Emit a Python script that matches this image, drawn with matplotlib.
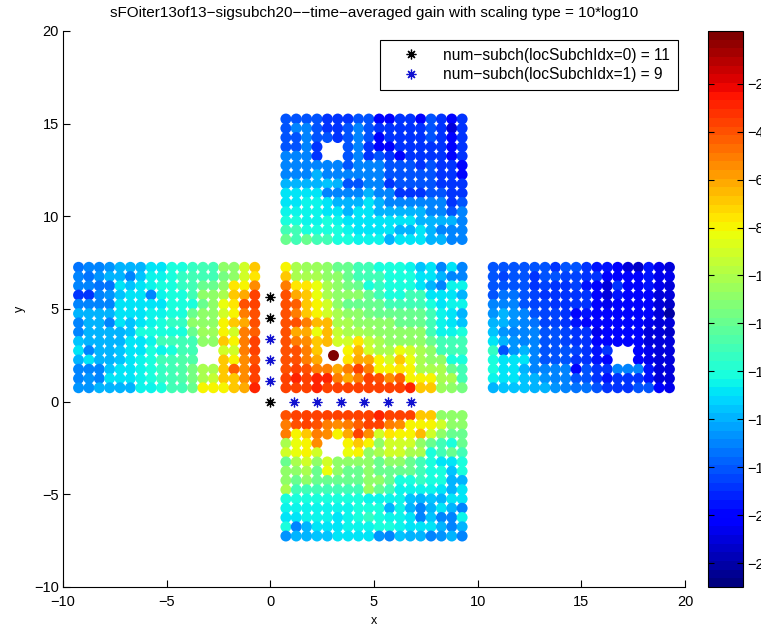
import numpy as np
import matplotlib
matplotlib.use('Agg')
import matplotlib.pyplot as plt
from matplotlib.colors import Normalize
from matplotlib.cm import ScalarMappable

plt.rcParams['font.family'] = ['Liberation Sans', 'DejaVu Sans']
H = float('nan')

x_top = [0.75 + 0.5 * i for i in range(18)]
x_left = [-9.25 + 0.5 * i for i in range(18)]
x_right = [10.75 + 0.5 * i for i in range(18)]
y_top = [15.25 - 0.5 * i for i in range(14)]
y_mid = [7.25 - 0.5 * i for i in range(14)]
y_bot = [-0.75 - 0.5 * i for i in range(14)]

top_vals = [
[-18,-18,-18,-18,-19,-19,-19,-18,-18,-20,-20,-19,-19,-20,-18,-19,-20,-19],
[-18,-17,-17,-18,-19,-19,-18,-17,-18,-19,-19,-19,-19,-19,-18,-19,-21,-19],
[-18,-18,-17,-18,-18,-19,-18,-17,-18,-20,-19,-19,-19,-19,-18,-19,-20,-19],
[-18,-18,-17,-19,H,H,-18,-17,-19,-20,-20,-19,-19,-19,-19,-19,-20,-19],
[-17,-17,-17,-19,H,H,-18,-17,-19,-18,-19,-20,-19,-19,-19,-19,-20,-19],
[-17,-17,-17,-17,-17,-17,-18,-17,-17,-17,-18,-18,-18,-19,-18,-19,-19,-20],
[-17,-17,-17,-16,-17,-17,-17,-17,-17,-17,-18,-18,-18,-18,-18,-19,-19,-20],
[-16,-16,-16,-16,-15.5,-16,-18,-18,-17,-17,-19,-18,-18,-18,-18,-19,-19,-19],
[-15,-15,-15,-15,-17,-17,-17,-17,-16,-17,-17,-19,-19,-19,-18,-18,-19,-19],
[-15,-15,-14.5,-14.5,-15,-16,-16,-16,-15,-16,-17,-17,-17,-17,-17,-17,-19,-18],
[-14.5,-14.5,-14.5,-14.5,-15,-15,-16,-15,-15,-16,-16,-16,-16,-16,-17,-17,-18,-17],
[-14,-14,-14.5,-14.5,-14,-14.5,-15,-15,-15,-15,-15,-15,-15,-16,-16,-16,-16,-17],
[-13,-13,-14,-14,-14,-14,-14.5,-15,-15,-15,-15,-16,-16,-15,-16,-17,-17,-17],
[-12,-13,-12,-13,-13,-14,-14,-14.5,-14.5,-14.5,-16,-15,-15,-15,-16,-16,-17,-17],
]
left_vals = [
[-17.5,-17,-17,-16.5,-16,-16,-16,-15,-15,-14,-14,-13.5,-13,-13,-11,-11,-9,-7],
[-17,-17.5,-16.5,-16,-16,-17,-15.5,-14.5,-14.5,-14,-13.5,-13,-13,-13,-11.5,-11,-9,-7.5],
[-17,-17,-17.5,-17.5,-15,-15.5,-15,-14.5,-14,-14,-13.5,-13,-12,-12,-11,-7.5,-8,-5.5],
[-19,-19,-17,-16.5,-15.5,-15,-15,-17,-14.5,-14,-14,-13,-11,-11,-10,-7,-6,-3.5],
[-17,-17,-17,-17,-15,-15,-15,-15,-15,-14,-14,-14,-12,-11,-8.5,-7.5,-4,-3.5],
[-16,-16,-16,-16,-15,-15,-15,-14.5,-14.5,-14,-14,-12,-11,-11,-9,-8,-5,-4],
[-17,-16,-16,-17,-15,-15.5,-15,-14.5,-14,-13.5,-13.5,-11,-11,-11,-8,-7,-6,-4],
[-17,-16,-16,-16,-16,-15.5,-14,-14,-14,-14,-14,-12,-10.5,-10.5,-8,-9,-5,-4.5],
[-15.5,-16,-16,-16,-16,-15,-15,-14.5,-13,-13,-13,-13,-11,-11,-7,-8,-5,-3.5],
[-15,-17,-16,-16,-15.5,-15,-15,-14,-14.5,-14,-13,-13,H,H,-9,-9,-5,-3.5],
[-16,-15,-16,-16,-15.5,-15,-14.5,-14,-13,-13,-12.5,-12.5,H,H,-7,-8,-5.5,-4],
[-17,-17,-17,-15.5,-15,-15,-14.5,-14,-13.5,-13,-12.5,-11.5,-10,-10,-7,-4.5,-5.5,-3.5],
[-17,-16.5,-17,-15,-15,-15,-14.5,-14,-13.5,-13,-12.5,-11.5,-10,-9.5,-7,-7,-5.5,-3.5],
[-16.5,-16.5,-16,-16,-16,-16,-14.5,-14.5,-14,-13,-13,-12,-8,-8,-8,-7,-6,-3],
]
center_vals = [
[-8,-10,-10.5,-10.5,-11,-12,-12,-13,-13,-14,-14,-14,-14.5,-15.5,-15,-17,-15,-17],
[-7,-10,-10,-10,-11,-11,-12,-13,-13,-13,-14,-14,-14,-15,-15,-16,-17,-17],
[-5,-7.5,-7.5,-8.5,-10,-11,-11.5,-12,-14,-13.5,-14,-14,-14,-15,-16,-17,-14.5,-14.5],
[-4,-6,-7,-8.5,-10,-11,-11,-11,-12,-13,-14,-14,-13,-13,-15,-15,-15,-16],
[-4,-4.5,-7,-8,-9,-11,-12,-12,-12,-12,-13,-13,-13,-13,-14,-15,-14.5,-14.5],
[-4,-5,-7,-8,-9,-10,-11,-11,-11.5,-12,-12,-12,-12,-12,-13,-14.5,-15,-16],
[-4,-4,-5,-6.5,-6.5,-10,-10,-11,-11,-11,-11,-12,-12,-12,-13,-14.5,-15,-15.5],
[-4,-6,-6,-8.5,-6.5,-9.5,-10,-10,-10.5,-11,-11,-11,-11,-11,-13,-14.5,-14.5,-14],
[-4,-5,-5.5,-7,-6.5,-9,-9,-7.5,-9.5,-10,-11,-11,-11,-11,-12,-13,-13,-13],
[-4,-4,-5,-7,H,H,-8,-6.5,-9,-10,-10,-8.5,-9,-10,-11,-13,-13,-13],
[-4,-4,-5,-6,H,H,-7.5,-6,-6,-8,-9,-7,-8.5,-10,-11,-11,-14,-14],
[-4,-3.5,-4,-5,-5,-6,-5,-3.5,-5,-8,-8,-7.5,-8,-10,-10,-10,-12,-13],
[-3.5,-3,-3.5,-3,-3,-5,-6,-5,-3.5,-4,-5.5,-4.5,-8,-8,-8,-10,-10,-13],
[-3.5,-3.5,-3.5,-3,-3.5,-3.5,-3.5,-3.5,-3.5,-3.5,-3.5,-3.5,-3,-7,-7,-10.5,-11,-11.5],
]
right_vals = [
[-18,-18,-18,-18,-18,-18,-19,-18,-18,-19,-19.5,-19.5,-20,-21,-21.5,-19.5,-20.5,-21],
[-18,-18.5,-18,-18,-19,-18,-18,-18.5,-18.5,-19,-19,-20,-20,-20,-20,-19.5,-20.5,-20.5],
[-18,-18,-18,-18,-19,-18.5,-19,-19,-18.5,-19.5,-20,-21,-19,-20,-20,-19.5,-20.5,-21],
[-18,-17.5,-17.5,-18,-18.5,-19,-19,-19,-19,-19,-20,-21,-19.5,-20,-20,-20,-21,-21],
[-17,-17,-17,-18,-18.5,-18.5,-19,-19,-19,-19,-20,-20.5,-20,-20,-20,-20,-21,-21.5],
[-16.5,-16,-16.5,-17,-18,-18.5,-18.5,-19,-20,-19.5,-20,-20,-20,-20,-20,-20,-21,-22],
[-16,-16,-16.5,-17,-17.5,-18.5,-18.5,-19,-19.5,-20,-20,-20,-20,-20,-20,-20.5,-21,-21],
[-15.5,-16.5,-17,-17,-17,-18,-18,-18.5,-19,-19,-20.5,-20,-20,-20,-20,-21,-21,-21.5],
[-15,-16,-16.5,-17,-17,-18,-18,-18.5,-19,-19,-20,-20,-20,-20,-20,-21,-21,-21],
[-13.5,-18,-16.5,-16,-17,-18,-18,-18,-18.5,-19,-19.5,-19,H,H,-20,-20.5,-21,-21],
[-14,-15,-15,-15,-17,-18,-18,-18,-19,-19,-19.5,-20,H,H,-20,-20.5,-21,-21],
[-14,-15,-15,-16,-17,-17,-17,-17,-20,-18,-19,-19,-17,-17,-17,-19.5,-21,-21],
[-14.5,-15,-15,-15.5,-16,-16.5,-17,-17,-18,-18,-19,-19.5,-19,-19,-19,-19.5,-21,-21],
[-16,-15.5,-15.5,-15.5,-16,-16,-16.5,-17,-17.5,-17.5,-18,-19,-19,-19,-18,-18,-20,-20.5],
]
bottom_vals = [
[-4,-3.5,-3.5,-3.5,-3.5,-3.5,-3.5,-3.5,-3.5,-3,-3.5,-3.5,-3.5,-7,-7,-11,-11,-11],
[-5,-4,-3.5,-4,-5,-5.5,-5,-4.5,-3.5,-3.5,-5,-5.5,-8,-8,-8,-9,-11,-11],
[-5,-8,-7,-5,-5.5,-8,-6,-3.5,-5.5,-9,-7.5,-8,-8,-6.5,-9,-11,-12,-12],
[-10,-8.5,-8,-5.5,H,H,-8,-7,-8,-11,-9,-9,-9,-11,-12,-13,-14,-12],
[-9,-8.5,-8,-9,H,H,-8.5,-8,-11,-10,-9,-9,-10,-10,-14,-13,-12,-13],
[-12,-10,-9,-11,-9,-11,-11,-11,-11,-12,-11,-11,-12,-13,-14,-15,-15,-14],
[-11,-11,-10,-12,-8.5,-11,-12,-12,-11,-12,-12,-12,-12,-13,-14,-14,-15.5,-14],
[-11,-12,-11,-12,-12,-12,-12,-12,-11,-11,-12,-14,-14,-13.5,-14,-14,-16,-16],
[-10,-13,-13,-13,-13,-13,-13,-13,-10.5,-12,-13,-14.5,-14.5,-14.5,-14.5,-15,-16,-15],
[-14,-14,-14,-14,-14,-14,-14,-14,-14.5,-14.5,-14.5,-14.5,-15.5,-16,-15.5,-16,-15,-15],
[-14.5,-14.5,-14.5,-14.5,-14.5,-14.5,-14.5,-14,-14,-14,-16,-14.5,-16,-17,-16,-15,-16,-17],
[-15,-15,-14.5,-14.5,-14.5,-15,-14.5,-14,-13.5,-14,-14.5,-14.5,-15,-17,-15.5,-17,-17,-14.5],
[-14,-17,-16,-15,-15,-15,-14.5,-14.5,-14.5,-14,-14,-14.5,-15,-15,-15,-16,-17,-16],
[-16.5,-16,-16,-15.5,-15.5,-15,-15,-15,-15,-16.5,-17,-15.5,-16,-16,-17,-16.5,-16,-17],
]
peak_x, peak_y, peak_val = [3.0], [2.5], [0.0]

black_x = [0, 0, 0]
black_y = [5.67, 4.53, 0]
blue_x = [0, 0, 0, 1.13, 2.27, 3.4, 4.53, 5.67, 6.8]
blue_y = [3.4, 2.27, 1.13, 0, 0, 0, 0, 0, 0]

title = 'sFOiter13of13\u2212sigsubch20\u2212\u2212time\u2212averaged gain with scaling type = 10*log10'
legend_labels = ['num\u2212subch(locSubchIdx=0) = 11', 'num\u2212subch(locSubchIdx=1) = 9']
axis_ticks = [-10, -5, 0, 5, 10, 15, 20]
cbar_ticks = [-2, -4, -6, -8, -10, -12, -14, -16, -18, -20, -22]
vmin, vmax = -23.0, 0.2

W, Hh = 761, 626
fig = plt.figure(figsize=(W / 100, Hh / 100), dpi=100)
ax = fig.add_axes([63 / W, (Hh - 587) / Hh, 622 / W, 556 / Hh])
cmap = plt.get_cmap('jet', 64)
norm = Normalize(vmin, vmax)

panels = [(x_left, y_mid, left_vals), (x_top, y_top, top_vals), (x_top, y_mid, center_vals),
          (x_right, y_mid, right_vals), (x_top, y_bot, bottom_vals)]
for xs, ys, vals in panels:
    X, Y = np.meshgrid(xs, ys)
    ax.scatter(X.ravel(), Y.ravel(), c=np.array(vals, float).ravel(), s=62, cmap=cmap, norm=norm,
               linewidths=0, zorder=2)
ax.scatter(peak_x, peak_y, c=peak_val, s=62, cmap=cmap, norm=norm, linewidths=0, zorder=3)

star = (8, 2, 0)
ax.plot(black_x, black_y, ls='none', marker=star, ms=7, mew=0.9, color='black', label=legend_labels[0], zorder=4)
ax.plot(blue_x, blue_y, ls='none', marker=star, ms=7, mew=0.9, color='#1010d0', label=legend_labels[1], zorder=4)

ax.set_xlim(-10, 20)
ax.set_ylim(-10, 20)
ax.set_xticks(axis_ticks)
ax.set_yticks(axis_ticks)
ax.tick_params(direction='in', length=5, width=0.8, labelsize=10.5)
ax.tick_params(axis='x', pad=6)
ax.tick_params(axis='y', pad=3)
ax.spines['top'].set_visible(False)
ax.spines['right'].set_visible(False)
ax.set_title(title, fontsize=11, pad=10)
ax.set_xlabel('x', fontsize=9, labelpad=4)
ax.set_ylabel('y', fontsize=9, labelpad=6)

leg = ax.legend(loc='upper right', bbox_to_anchor=(678 / W, (Hh - 40) / Hh), bbox_transform=fig.transFigure,
                fontsize=11.2, fancybox=False, framealpha=1, edgecolor='black', borderaxespad=0,
                borderpad=0.5, labelspacing=0.3, handlelength=3.0, handletextpad=0.6)
leg.get_frame().set_linewidth(0.8)

cax = fig.add_axes([708 / W, (Hh - 587) / Hh, 35 / W, 556 / Hh])
cb = fig.colorbar(ScalarMappable(norm=norm, cmap=cmap), cax=cax, ticks=cbar_ticks)
cb.ax.tick_params(direction='in', length=4, width=0.8, labelsize=10.5, left=True, right=True, pad=3)
cb.outline.set_linewidth(0.8)

fig.savefig('out.png', dpi=100)
